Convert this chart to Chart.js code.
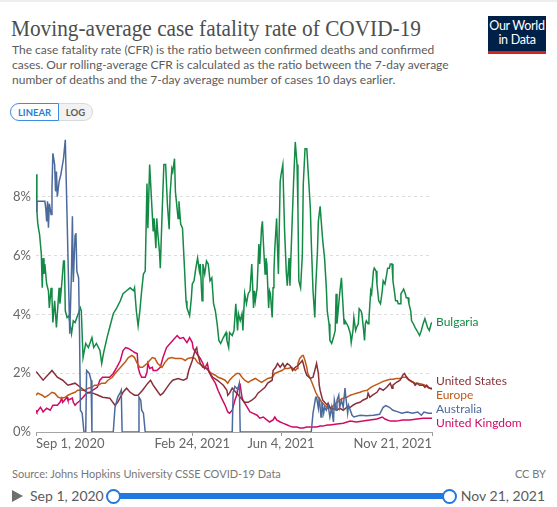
<!DOCTYPE html>
<html>
<head>
<meta charset="utf-8">
<script src="https://cdn.jsdelivr.net/npm/chart.js@4.4.0/dist/chart.umd.min.js"></script>
<style>
  html, body { margin: 0; padding: 0; background: #fff; }
  body { width: 557px; height: 507px; position: relative; overflow: hidden; font-family: Lato, sans-serif; color: #5b5b5b; }
  .topline { position: absolute; left: 0; top: 0; width: 557px; height: 2px; background: #eee; }
  h1 { position: absolute; left: 11px; top: 16px; margin: 0; font: 400 24px/24px "Liberation Serif", serif; color: #4e4e4e; white-space: nowrap; transform-origin: left top; }
  .sub { position: absolute; left: 12px; top: 42px; font-size: 12px; line-height: 15px; color: #5b5b5b; white-space: nowrap; }
  .logo { position: absolute; left: 488px; top: 16px; width: 58px; height: 32px; background: #002147; border-bottom: 3px solid #ce261e; color: #fff; text-align: center; font-size: 12.5px; line-height: 14px; letter-spacing: -0.3px; padding-top: 3px; box-sizing: content-box; }
  .toggle { position: absolute; left: 10px; top: 103px; height: 18px; display: flex; font-size: 9.5px; font-weight: 700; }
  .toggle span { display: flex; align-items: center; justify-content: center; box-sizing: border-box; height: 18px; }
  .lin { width: 49px; border: 1px solid #3c8ce0; border-radius: 9px 0 0 9px; color: #2a7fd4; background: #fff; }
  .log { width: 34px; border: 1px solid #d9d9d9; border-left: none; border-radius: 0 9px 9px 0; color: #5b5b5b; background: #f2f2f2; }
  #wrap { position: absolute; left: 0; top: 125px; width: 557px; height: 330px; }
  .src { position: absolute; left: 12px; top: 467px; font-size: 11px; line-height: 14px; color: #777; }
  .cc { position: absolute; right: 11px; top: 467px; font-size: 11px; line-height: 14px; color: #777; }
  .play { position: absolute; left: 12px; top: 490px; width: 0; height: 0; border-top: 6px solid transparent; border-bottom: 6px solid transparent; border-left: 11px solid #6e6e6e; }
  .d1 { position: absolute; left: 30px; top: 488px; font-size: 14px; line-height: 16px; color: #5b5b5b; }
  .d2 { position: absolute; right: 12px; top: 488px; font-size: 14px; line-height: 16px; color: #5b5b5b; }
  .bar { position: absolute; left: 114px; top: 493px; width: 336px; height: 6px; background: #1f79e0; }
  .knob { position: absolute; top: 489px; width: 11px; height: 11px; border: 2px solid #1f79e0; border-radius: 50%; background: #fff; }
</style>
</head>
<body>
<div class="topline"></div>
<h1 id="title">Moving-average case fatality rate of COVID-19</h1>
<div class="sub">The case fatality rate (CFR) is the ratio between confirmed deaths and confirmed<br>cases. Our rolling-average CFR is calculated as the ratio between the 7-day average<br>number of deaths and the 7-day average number of cases 10 days earlier.</div>
<div class="logo">Our World<br>in Data</div>
<div class="toggle"><span class="lin">LINEAR</span><span class="log">LOG</span></div>
<div id="wrap"><canvas id="chart" width="557" height="330"></canvas></div>
<div class="src">Source: Johns Hopkins University CSSE COVID-19 Data</div>
<div class="cc">CC BY</div>
<div class="play"></div>
<div class="d1">Sep 1, 2020</div>
<div class="bar"></div>
<div class="knob" style="left:106px"></div>
<div class="knob" style="left:442px"></div>
<div class="d2">Nov 21, 2021</div>
<script>
// x values are days since Sep 1, 2020
const tickDays = [0, 176, 276, 446];
const tickLabels = ['Sep 1, 2020', 'Feb 24, 2021', 'Jun 4, 2021', 'Nov 21, 2021'];

const bulgariaDays = [0,1,2,3,4,6,7,8,9,10,12,14,15,17,18,19,21,23,26,27,29,31,32,33,35,37,40,42,44,50,51,53,56,59,63,65,68,72,74,76,80,83,87,91,95,98,102,106,110,111,113,115,117,119,121,123,125,126,128,130,132,133,135,136,137,139,140,142,144,146,148,150,151,153,154,156,157,160,161,163,165,167,169,170,173,175,176,178,180,182,184,185,187,188,190,192,194,196,198,200,202,204,206,208,211,214,215,217,218,221,223,225,227,228,230,232,233,235,237,239,241,242,243,245,246,247,249,251,252,254,255,256,258,259,260,262,263,264,266,267,268,269,271,272,273,275,276,278,279,280,282,283,285,286,288,290,292,294,295,296,298,300,301,303,305,307,309,310,312,314,315,317,318,320,321,323,325,327,328,330,331,333,335,337,338,339,341,342,344,345,347,348,350,352,354,355,357,358,360,361,363,364,366,367,369,370,371,372,374,375,377,378,380,381,383,384,386,388,390,391,393,395,396,398,399,401,402,404,405,407,408,410,411,413,414,416,417,419,420,422,423,425,427,429,432,434,436,438,441,443,445,446];
const bulgariaCfr = [8.76,7.50,7.09,6.89,6.72,6.05,4.90,5.91,5.37,5.71,5.03,4.80,4.22,4.90,4.56,3.72,4.46,3.55,4.90,4.36,5.03,5.81,5.81,4.12,3.89,3.95,3.34,3.78,3.72,4.22,4.12,2.53,3.01,2.87,3.21,2.87,3.01,2.77,2.33,2.67,3.21,3.55,4.02,4.22,4.46,4.70,4.80,4.90,4.80,4.90,4.12,3.61,4.12,4.80,5.37,5.47,8.45,6.93,9.09,7.94,6.82,7.26,6.25,7.26,6.82,6.15,5.57,7.40,9.09,9.09,7.74,6.89,8.07,8.95,8.85,9.29,8.18,7.26,7.84,7.06,6.93,5.71,4.46,4.22,3.95,4.56,5.03,5.14,5.57,5.91,5.47,5.71,4.46,5.71,5.37,5.81,5.71,5.14,5.24,4.36,4.12,3.68,3.11,3.01,3.21,3.38,3.11,2.87,3.38,3.28,3.45,4.36,3.45,4.02,3.78,4.02,3.45,4.70,4.36,4.70,4.80,5.24,5.71,4.22,4.80,4.46,4.90,6.39,5.71,6.93,7.16,6.49,5.37,5.91,5.71,4.22,4.80,4.70,3.89,4.90,5.47,6.25,7.26,6.25,5.37,8.51,8.75,9.09,7.94,6.82,5.37,4.97,5.91,4.97,6.72,8.41,9.86,9.09,7.60,5.14,4.90,6.05,8.41,9.63,9.63,8.61,7.60,6.49,4.80,3.89,4.90,6.15,7.16,7.67,7.26,6.49,5.91,4.90,4.12,3.68,3.11,3.01,3.21,3.45,4.70,3.68,4.36,4.70,5.24,4.70,3.68,3.78,3.68,3.55,3.34,3.04,3.45,3.89,3.45,3.55,3.68,4.19,4.12,4.02,3.45,3.11,3.68,3.78,3.68,3.85,4.80,4.70,5.47,5.57,5.47,5.03,4.46,4.36,4.80,5.14,5.03,5.37,5.57,5.57,5.71,5.71,5.14,4.70,4.46,4.46,4.36,4.36,4.70,4.80,4.86,4.70,4.56,4.56,4.36,4.12,3.78,3.68,3.55,3.45,3.28,3.45,3.68,3.85,3.55,3.45,3.68,3.72];

const usDays = [0,8,18,24,30,36,44,50,57,64,70,75,83,89,92,98,102,106,111,115,120,126,129,132,136,140,143,147,151,154,160,166,170,172,176,179,181,182,185,188,193,196,199,204,207,211,215,216,218,221,226,230,235,239,243,247,250,254,258,261,266,267,270,272,275,278,280,283,286,288,289,292,295,297,300,301,303,305,309,312,314,316,318,319,320,322,323,325,328,329,331,333,334,339,342,346,350,354,357,361,365,368,373,374,376,379,384,387,391,395,399,401,402,406,410,412,413,415,418,421,425,427,429,432,436,438,440,443,446];
const usCfr = [2.06,1.76,2.09,1.86,1.76,1.59,1.66,1.52,1.35,1.32,1.25,1.18,1.15,0.91,1.01,1.35,1.49,1.35,1.25,1.25,1.42,1.66,1.76,1.59,1.42,1.25,1.32,1.49,1.66,1.76,1.82,1.76,1.82,2.09,2.43,2.77,2.87,2.67,2.33,2.20,2.16,1.99,1.86,1.76,1.69,1.59,1.42,1.25,1.32,1.49,1.32,1.18,1.01,1.01,1.08,1.18,1.32,1.42,1.52,1.66,1.76,2.09,2.20,2.33,2.20,2.33,2.20,2.33,2.26,2.16,2.09,2.20,2.26,2.33,2.43,2.33,2.09,1.93,1.82,1.86,2.09,2.33,1.99,1.59,1.42,1.18,1.08,1.01,0.91,0.98,0.84,0.74,0.81,0.74,0.81,0.74,0.84,0.84,0.91,0.98,1.01,1.08,1.15,1.32,1.18,1.25,1.35,1.49,1.42,1.52,1.66,1.49,1.59,1.69,1.76,1.86,1.93,1.99,1.82,1.76,1.69,1.59,1.66,1.59,1.59,1.52,1.59,1.49,1.49];

const europeDays = [0,2,7,10,14,18,21,25,29,33,36,41,44,47,52,55,59,63,66,70,74,78,81,86,89,92,97,100,104,108,111,114,117,120,125,128,131,134,137,142,145,149,153,157,160,164,168,171,176,179,182,187,190,194,198,202,205,209,213,216,218,221,226,229,232,235,239,243,247,250,254,258,261,266,269,272,277,280,284,288,292,294,295,297,300,301,303,305,306,309,312,315,318,322,325,329,333,339,342,346,350,354,357,361,365,368,373,376,379,384,387,391,395,399,402,406,410,413,418,420,424,427,430,435,438,441,446];
const europeCfr = [1.25,1.32,1.25,1.18,1.25,1.35,1.32,1.18,1.15,1.18,1.25,1.32,1.35,1.42,1.42,1.42,1.49,1.52,1.59,1.59,1.66,1.66,1.76,1.86,1.99,2.09,2.26,2.36,2.53,2.60,2.53,2.33,2.20,2.20,2.33,2.43,2.53,2.50,2.33,2.20,2.36,2.50,2.53,2.50,2.50,2.50,2.43,2.50,2.53,2.50,2.36,2.26,2.20,2.09,1.99,1.93,1.86,1.82,1.76,1.66,1.76,1.86,1.99,1.99,1.86,1.76,1.69,1.76,1.82,1.76,1.69,1.76,1.82,1.86,1.99,2.03,2.09,2.16,2.16,2.20,2.09,2.16,2.33,2.50,2.60,2.60,2.43,2.20,1.99,1.82,1.59,1.35,1.18,1.01,0.91,0.81,0.84,1.01,1.08,1.15,1.18,1.25,1.28,1.32,1.35,1.39,1.42,1.49,1.55,1.62,1.66,1.72,1.76,1.79,1.79,1.82,1.82,1.86,1.86,1.76,1.69,1.66,1.66,1.62,1.59,1.52,1.45];

const ukDays = [0,1,5,7,8,12,16,19,24,27,29,30,35,36,41,42,44,46,50,53,57,61,64,69,72,75,80,83,87,91,95,98,101,104,108,111,114,115,117,119,123,125,126,128,131,132,136,140,143,147,151,154,159,162,166,170,173,176,177,181,185,188,190,193,195,198,202,205,209,213,216,218,221,224,226,227,230,232,233,238,241,244,249,252,256,260,263,267,269,271,275,278,283,286,289,294,297,301,305,309,312,316,320,323,328,331,339,346,354,361,368,376,384,390,393,399,406,413,421,429,436,446];
const ukCfr = [0.74,0.68,0.84,0.74,0.68,0.81,0.74,0.91,0.91,1.01,1.15,1.01,1.18,1.08,1.15,1.01,0.91,0.98,1.08,1.18,1.32,1.35,1.42,1.52,1.76,1.86,1.86,1.86,1.99,2.20,2.43,2.77,2.87,2.84,2.77,2.70,2.67,2.20,1.99,1.86,1.86,2.03,2.33,2.16,2.20,2.09,2.09,2.20,2.53,2.87,3.01,3.11,3.28,3.18,3.21,3.04,3.21,3.04,2.84,2.67,2.50,2.33,2.16,2.33,2.03,1.86,1.66,1.42,1.15,0.91,0.68,0.64,0.74,1.08,1.25,1.42,1.59,1.18,1.08,0.84,0.68,0.64,0.57,0.47,0.51,0.41,0.34,0.41,0.51,0.41,0.34,0.30,0.24,0.20,0.17,0.17,0.14,0.14,0.17,0.17,0.17,0.17,0.20,0.20,0.24,0.24,0.27,0.30,0.37,0.34,0.37,0.41,0.44,0.51,0.44,0.37,0.37,0.41,0.41,0.44,0.47,0.47];

const australiaDays = [0,1,10,11,12,13,14,15,17,18,19,21,22,23,24,26,28,31,33,38,40,41,42,44,45,46,48,49,50,52,54,56,57,60,62,63,87,89,92,95,96,97,115,116,118,119,121,123,221,222,224,227,229,230,310,312,315,316,318,319,321,322,324,325,327,329,331,333,335,336,338,339,341,342,344,346,348,349,351,352,354,356,358,365,372,380,387,391,394,398,402,406,412,418,424,430,434,437,442,446];
const australiaCfr = [7.50,7.84,7.84,7.60,7.16,7.84,6.94,7.76,7.39,8.29,9.47,9.09,8.18,8.85,8.00,8.51,8.75,9.30,9.93,3.34,5.51,7.33,5.10,6.69,6.76,5.47,5.24,3.45,0.74,0.64,0,0,2.09,1.99,1.76,0,0,0.84,1.18,1.35,1.42,0,0,1.18,1.08,0.74,0.64,0,0,1.35,1.55,1.45,1.66,0,0,0.64,1.18,1.18,0.81,1.18,0.51,1.01,0.64,0.84,0.74,0.91,0.51,0.84,0.34,1.08,0.74,1.08,1.25,0.84,1.08,0.84,1.49,1.18,0.64,0.91,0.74,0.57,0.51,0.57,0.55,0.57,0.60,0.84,0.90,0.84,0.74,0.70,0.64,0.68,0.64,0.68,0.57,0.68,0.64,0.64];

const series = [
  { name: 'Australia', days: australiaDays, cfr: australiaCfr, color: '#4c6a9c', labelAt: 0.77 },
  { name: 'Bulgaria', days: bulgariaDays, cfr: bulgariaCfr, color: '#138a45', labelAt: 3.72 },
  { name: 'United States', days: usDays, cfr: usCfr, color: '#883039', labelAt: 1.73 },
  { name: 'Europe', days: europeDays, cfr: europeCfr, color: '#c05917', labelAt: 1.27 },
  { name: 'United Kingdom', days: ukDays, cfr: ukCfr, color: '#cf0a66', labelAt: 0.31 },
];

const seriesLabels = {
  id: 'seriesLabels',
  afterDatasetsDraw(chart) {
    const { ctx, chartArea, scales } = chart;
    ctx.save();
    ctx.font = '12px Lato';
    ctx.textBaseline = 'middle';
    series.forEach(s => {
      ctx.fillStyle = s.color;
      ctx.fillText(s.name, chartArea.right + 4, scales.y.getPixelForValue(s.labelAt));
    });
    ctx.restore();
  }
};

new Chart(document.getElementById('chart'), {
  type: 'line',
  data: {
    datasets: series.map(s => ({
      label: s.name,
      data: s.days.map((d, i) => ({ x: d, y: s.cfr[i] })),
      borderColor: s.color,
      borderWidth: 1.5,
      pointRadius: 0,
      tension: 0,
      fill: false,
    })),
  },
  options: {
    responsive: false,
    animation: false,
    layout: { padding: { top: 11, right: 125, left: 0, bottom: 0 } },
    plugins: {
      legend: { display: false },
      tooltip: { enabled: false },
    },
    scales: {
      x: {
        type: 'linear',
        min: 0,
        max: 446,
        afterBuildTicks: s => { s.ticks = tickDays.map(v => ({ value: v })); },
        afterFit: s => { s.height = 23; },
        ticks: {
          autoSkip: false,
          maxRotation: 0,
          align: 'inner',
          padding: 0,
          color: '#666',
          font: { family: 'Lato', size: 13 },
          callback: v => tickLabels[tickDays.indexOf(v)],
        },
        grid: { drawOnChartArea: false, drawTicks: true, tickLength: 4, color: '#999' },
        border: { display: true, color: '#a6a6a6', width: 1 },
      },
      y: {
        min: 0,
        max: 10,
        afterFit: s => { s.width = 36; },
        ticks: {
          stepSize: 2,
          padding: 5,
          color: '#666',
          font: { family: 'Lato', size: 13 },
          callback: v => (v === 10 ? '' : v + '%'),
        },
        grid: {
          drawTicks: false,
          color: c => (c.tick.value === 0 || c.tick.value === 10) ? 'rgba(0,0,0,0)' : '#dddddd',
        },
        border: { display: false, dash: [3, 3] },
      },
    },
  },
  plugins: [seriesLabels],
});

// stretch the serif title to the width it has in the original
const t = document.getElementById('title');
t.style.transform = 'scaleX(' + (410 / t.getBoundingClientRect().width) + ')';
</script>
</body>
</html>
